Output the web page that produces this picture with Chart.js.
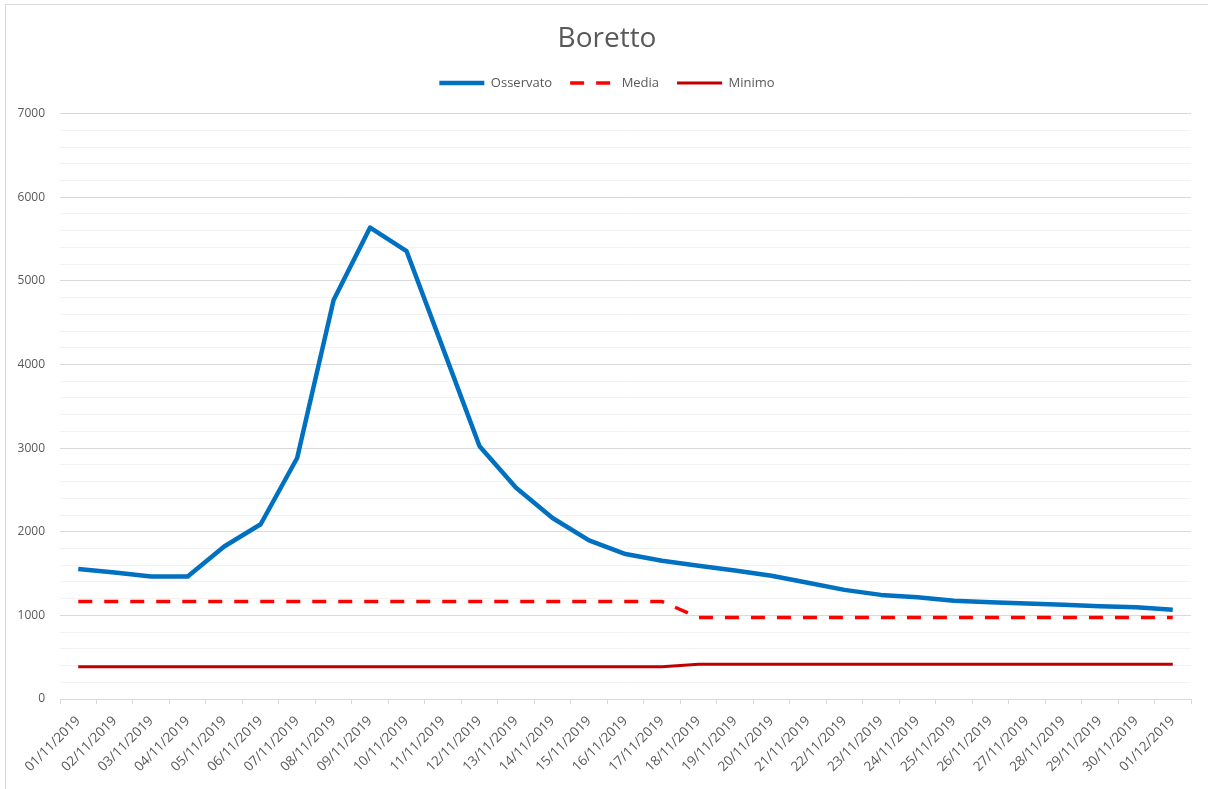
<!DOCTYPE html>
<html>
<head>
<meta charset="utf-8">
<title>Boretto</title>
<script src="https://cdn.jsdelivr.net/npm/chart.js@4.4.1/dist/chart.umd.min.js"></script>
<style>
    html, body { margin: 0; padding: 0; background: #fff; overflow: hidden; }
    #wrap { position: relative; width: 1208px; height: 789px; overflow: hidden; }
    #frame { position: absolute; left: 5px; top: 4px; width: 1220px; height: 800px; border: 1px solid #d9d9d9; box-sizing: border-box; }
    #myChart { position: absolute; left: 0; top: 0; }
</style>
</head>
<body>
<div id="wrap">
    <div id="frame"></div>
    <canvas id="myChart" width="1214" height="789"></canvas>
</div>
<script>
// Categories (days)
const days = [
    '01/11/2019', '02/11/2019', '03/11/2019', '04/11/2019', '05/11/2019', '06/11/2019',
    '07/11/2019', '08/11/2019', '09/11/2019', '10/11/2019', '11/11/2019', '12/11/2019',
    '13/11/2019', '14/11/2019', '15/11/2019', '16/11/2019', '17/11/2019', '18/11/2019',
    '19/11/2019', '20/11/2019', '21/11/2019', '22/11/2019', '23/11/2019', '24/11/2019',
    '25/11/2019', '26/11/2019', '27/11/2019', '28/11/2019', '29/11/2019', '30/11/2019',
    '01/12/2019'
];

// Series values
const osservato = [
    1555, 1513, 1465, 1465, 1824, 2090, 2882, 4770, 5637, 5355, 4190, 3022,
    2527, 2164, 1896, 1733, 1653, 1593, 1537, 1473, 1390, 1305, 1245, 1218,
    1174, 1158, 1141, 1126, 1110, 1098, 1066
];
const media = [
    1165, 1165, 1165, 1165, 1165, 1165, 1165, 1165, 1165, 1165, 1165, 1165,
    1165, 1165, 1165, 1165, 1165, 975, 975, 975, 975, 975, 975, 975,
    975, 975, 975, 975, 975, 975, 975
];
const minimo = [
    385, 385, 385, 385, 385, 385, 385, 385, 385, 385, 385, 385,
    385, 385, 385, 385, 385, 415, 415, 415, 415, 415, 415, 415,
    415, 415, 415, 415, 415, 415, 415
];

// Y axis range
const yMin = 0;
const yMax = 7000;
const yMajor = 1000;
const yMinor = 200;

const textColor = '#595959';
const fontFamily = '"Open Sans", "Liberation Sans", sans-serif';

// Extra space between legend and plot area
const legendMargin = {
    id: 'legendMargin',
    beforeInit(chart) {
        const fit = chart.legend.fit;
        chart.legend.fit = function () {
            fit.call(this);
            this.height += 14;
        };
    }
};

const config = {
    type: 'line',
    data: {
        labels: days,
        datasets: [{
            label: 'Osservato',
            data: osservato,
            borderColor: '#0070c0',
            backgroundColor: '#0070c0',
            borderWidth: 4.5,
            pointRadius: 0,
            pointStyle: 'line',
            tension: 0,
            borderJoinStyle: 'round'
        }, {
            label: 'Media',
            data: media,
            borderColor: '#ff0000',
            backgroundColor: '#ff0000',
            borderWidth: 3.5,
            borderDash: [14, 12],
            borderCapStyle: 'butt',
            pointRadius: 0,
            pointStyle: 'line',
            tension: 0
        }, {
            label: 'Minimo',
            data: minimo,
            borderColor: '#c00000',
            backgroundColor: '#c00000',
            borderWidth: 3,
            pointRadius: 0,
            pointStyle: 'line',
            tension: 0
        }]
    },
    options: {
        responsive: false,
        animation: false,
        devicePixelRatio: 1,
        layout: {
            padding: { top: 0, right: 0, bottom: 0, left: 0 }
        },
        scales: {
            x: {
                offset: true,
                grid: {
                    offset: true,
                    drawOnChartArea: false,
                    drawTicks: true,
                    tickLength: 5,
                    color: '#d9d9d9'
                },
                border: { display: true, color: '#d9d9d9', width: 1 },
                ticks: {
                    autoSkip: false,
                    minRotation: 45,
                    maxRotation: 45,
                    padding: 9,
                    color: textColor,
                    font: { family: fontFamily, size: 13.5 }
                },
                afterFit: scale => { scale.height = 90; }
            },
            y: {
                min: yMin,
                max: yMax,
                grid: {
                    drawTicks: false,
                    color: ctx => (ctx.tick && ctx.tick.value % yMajor === 0) ? '#d9d9d9' : '#f2f2f2'
                },
                border: { display: false },
                ticks: {
                    stepSize: yMinor,
                    maxTicksLimit: 100,
                    autoSkip: false,
                    padding: 15,
                    color: textColor,
                    font: { family: fontFamily, size: 12 },
                    callback: value => (value % yMajor === 0) ? String(value) : ''
                },
                afterFit: scale => { scale.width = 60; }
            },
            // empty right box so the title and legend sit centred on the page
            yRight: {
                position: 'right',
                grid: { display: false },
                border: { display: false },
                ticks: { display: false },
                afterFit: scale => { scale.width = 23; }
            }
        },
        plugins: {
            title: {
                display: true,
                text: 'Boretto',
                color: textColor,
                font: { family: fontFamily, size: 28, weight: 'normal' },
                padding: { top: 22, bottom: 3 }
            },
            legend: {
                display: true,
                position: 'top',
                labels: {
                    usePointStyle: true,
                    pointStyleWidth: 45,
                    boxHeight: 13,
                    padding: 18,
                    color: textColor,
                    font: { family: fontFamily, size: 13 },
                    generateLabels: chart => {
                        const items = Chart.defaults.plugins.legend.labels.generateLabels(chart);
                        items.forEach(item => {
                            const ds = chart.data.datasets[item.datasetIndex];
                            item.lineDash = ds.borderDash || [];
                            item.lineCap = 'butt';
                            item.lineWidth = ds.borderWidth;
                            item.strokeStyle = ds.borderColor;
                        });
                        return items;
                    }
                }
            },
            tooltip: { enabled: false }
        }
    },
    plugins: [legendMargin]
};

const chart = new Chart(document.getElementById('myChart'), config);
</script>
</body>
</html>
